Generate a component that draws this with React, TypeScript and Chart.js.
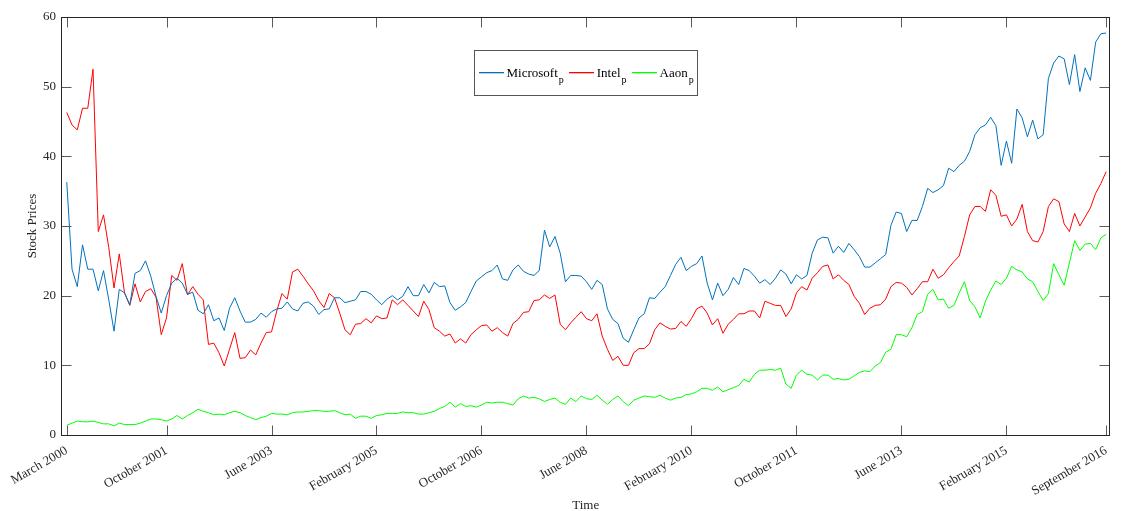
import React, { useEffect, useRef } from "react";
import { Chart, registerables } from "chart.js";
Chart.register(...registerables);

const tickPositions = [0, 19, 39, 59, 79, 99, 119, 139, 159, 179, 198];
const tickLabels = ["March 2000", "October 2001", "June 2003", "February 2005", "October 2006", "June 2008", "February 2010", "October 2011", "June 2013", "February 2015", "September 2016"];
const yTicks = [0, 10, 20, 30, 40, 50, 60];
const seriesNames = ["Microsoft", "Intel", "Aaon"];
const seriesSub = "p";
const seriesColors = ["#0072BD", "#FF0000", "#00FF00"];

const microsoft = [
  36.3, 23.8, 21.3, 27.3, 23.8, 23.8, 20.7, 23.6, 19.4, 14.9,
  20.9, 20.4, 18.7, 23.2, 23.6, 25.0, 22.8, 19.9, 17.5, 20.0,
  21.8, 22.5, 21.8, 20.2, 20.5, 17.9, 17.4, 18.7, 16.4, 16.8,
  15.0, 18.2, 19.7, 17.8, 16.2, 16.2, 16.6, 17.5, 16.9, 17.7,
  18.1, 18.2, 19.1, 18.1, 17.8, 18.9, 19.1, 18.5, 17.3, 18.0,
  18.1, 19.7, 19.7, 19.0, 19.2, 19.4, 20.6, 20.6, 20.2, 19.4,
  18.7, 19.5, 20.0, 19.4, 19.9, 21.3, 20.0, 20.0, 21.6, 20.4,
  21.9, 21.3, 21.4, 19.0, 17.9, 18.4, 19.0, 20.6, 22.1, 22.7,
  23.3, 23.6, 24.4, 22.4, 22.2, 23.7, 24.4, 23.5, 23.1, 22.9,
  23.6, 29.4, 27.0, 28.5, 26.1, 22.0, 22.9, 22.9, 22.8, 22.0,
  20.9, 22.2, 21.6, 18.1, 16.6, 16.0, 13.9, 13.3, 15.1, 16.8,
  17.4, 19.7, 19.6, 20.5, 21.3, 22.9, 24.5, 25.5, 23.6, 24.2,
  24.6, 25.7, 21.8, 19.4, 21.8, 20.0, 20.9, 22.6, 21.6, 23.9,
  23.6, 22.8, 21.8, 22.3, 21.6, 22.5, 23.7, 23.1, 21.7, 23.0,
  22.4, 22.9, 26.1, 28.0, 28.4, 28.3, 26.1, 27.1, 26.2, 27.5,
  26.6, 25.6, 24.1, 24.1, 24.7, 25.3, 25.9, 30.1, 32.0, 31.8,
  29.2, 30.8, 30.8, 32.8, 35.4, 34.8, 35.2, 35.8, 38.3, 37.8,
  38.7, 39.3, 40.7, 43.1, 44.1, 44.5, 45.6, 44.4, 38.7, 42.2,
  39.0, 46.8, 45.5, 42.8, 45.2, 42.5, 43.1, 51.2, 53.4, 54.4,
  54.0, 50.3, 54.6, 49.3, 52.7, 50.9, 56.4, 57.6, 57.7
];

const intel = [
  46.3, 44.5, 43.8, 46.9, 46.9, 52.5, 29.2, 31.6, 26.9, 21.1,
  26.0, 20.4, 18.6, 21.7, 19.1, 20.6, 21.0, 19.8, 14.4, 16.8,
  22.9, 22.2, 24.6, 20.1, 21.3, 20.2, 19.4, 13.0, 13.2, 11.8,
  9.9, 12.3, 14.7, 11.0, 11.1, 12.2, 11.5, 13.2, 14.7, 14.8,
  17.8, 20.3, 19.5, 23.4, 23.8, 22.8, 21.7, 20.7, 19.3, 18.3,
  20.3, 19.7, 17.5, 15.1, 14.4, 15.9, 16.0, 16.7, 16.1, 17.1,
  16.7, 16.8, 19.4, 18.7, 19.4, 18.6, 17.8, 17.0, 19.2, 18.0,
  15.4, 14.9, 14.2, 14.5, 13.2, 13.8, 13.2, 14.4, 15.1, 15.7,
  15.8, 14.9, 15.4, 14.7, 14.2, 16.0, 16.6, 17.6, 17.7, 19.3,
  19.4, 20.1, 19.6, 20.1, 15.9, 15.1, 16.1, 16.9, 17.7, 16.7,
  16.4, 17.4, 14.2, 12.3, 10.7, 11.3, 10.0, 10.0, 11.8, 12.4,
  12.4, 13.1, 15.1, 16.1, 15.6, 15.2, 15.3, 16.3, 15.6, 16.7,
  18.1, 18.5, 17.5, 15.8, 16.7, 14.6, 15.9, 16.6, 17.4, 17.4,
  17.8, 17.8, 16.8, 19.2, 18.9, 18.6, 18.6, 17.0, 18.1, 20.4,
  21.3, 20.8, 22.5, 23.3, 24.2, 24.4, 22.4, 23.0, 22.2, 21.6,
  19.9, 18.9, 17.3, 18.2, 18.6, 18.7, 19.5, 21.3, 21.9, 21.8,
  21.2, 20.1, 21.0, 22.0, 22.0, 23.8, 22.5, 23.0, 24.0, 24.9,
  25.7, 28.5, 31.6, 32.8, 32.8, 32.1, 35.2, 34.4, 31.4, 31.6,
  30.0, 31.0, 33.1, 29.2, 27.9, 27.7, 29.2, 32.8, 33.9, 33.5,
  30.3, 29.2, 31.8, 30.0, 31.3, 32.6, 34.7, 36.1, 37.8
];

const aaon = [
  1.4, 1.7, 2.0, 1.9, 1.9, 2.0, 1.8, 1.6, 1.6, 1.3,
  1.7, 1.5, 1.5, 1.5, 1.7, 2.0, 2.3, 2.3, 2.2, 2.0,
  2.3, 2.8, 2.3, 2.8, 3.2, 3.7, 3.4, 3.2, 2.9, 3.0,
  2.9, 3.2, 3.4, 3.2, 2.8, 2.5, 2.2, 2.5, 2.7, 3.1,
  3.0, 3.0, 2.9, 3.2, 3.3, 3.3, 3.4, 3.5, 3.5, 3.4,
  3.4, 3.5, 3.2, 2.9, 3.0, 2.4, 2.7, 2.7, 2.4, 2.8,
  2.9, 3.1, 3.1, 3.1, 3.3, 3.2, 3.2, 3.0, 3.0, 3.2,
  3.4, 3.8, 4.1, 4.7, 4.0, 4.5, 4.1, 4.2, 4.0, 4.3,
  4.7, 4.6, 4.7, 4.7, 4.5, 4.3, 5.2, 5.6, 5.3, 5.4,
  5.2, 4.8, 5.1, 5.3, 4.7, 4.4, 5.3, 4.8, 5.6, 5.2,
  5.1, 5.7, 5.0, 4.4, 5.1, 5.6, 4.8, 4.2, 5.0, 5.3,
  5.6, 5.5, 5.4, 5.7, 5.3, 5.0, 5.3, 5.4, 5.8, 5.9,
  6.2, 6.7, 6.7, 6.4, 6.9, 6.2, 6.5, 6.8, 7.1, 8.0,
  7.6, 8.7, 9.3, 9.3, 9.4, 9.3, 9.6, 7.3, 6.7, 8.6,
  9.3, 8.7, 8.6, 7.9, 8.6, 8.6, 8.0, 8.1, 7.9, 8.0,
  8.5, 9.0, 9.2, 9.1, 9.9, 10.4, 11.9, 12.3, 14.4, 14.4,
  14.1, 15.4, 17.3, 17.7, 20.2, 20.9, 19.4, 19.5, 18.2, 18.6,
  20.4, 22.0, 19.3, 18.4, 16.8, 19.2, 20.8, 22.1, 21.6, 22.5,
  24.2, 23.7, 23.4, 22.4, 22.0, 20.6, 19.3, 20.3, 24.6, 23.0,
  21.5, 24.7, 27.9, 26.5, 27.4, 27.5, 26.6, 28.3, 28.8
];

const FONT = '"Liberation Serif", "Times New Roman", serif';
const AXIS = "#262626";

const framePlugin = {
  id: "frame",
  beforeDatasetsDraw(chart: any) {
    const { ctx, chartArea: a, scales } = chart;
    const L = Math.round(a.left) + 0.5;
    const R = Math.round(a.right) - 0.5;
    const T = Math.round(a.top) + 0.5;
    const B = Math.round(a.bottom) + 0.5;
    const len = 10;
    ctx.save();
    ctx.lineWidth = 1;
    ctx.strokeStyle = "#5a5a5a";
    ctx.beginPath();
    tickPositions.forEach((v) => {
      const x = Math.round(scales.x.getPixelForValue(v)) + 0.5;
      ctx.moveTo(x, B);
      ctx.lineTo(x, B - len);
      ctx.moveTo(x, T);
      ctx.lineTo(x, T + len);
    });
    yTicks.forEach((v) => {
      const y = Math.round(scales.y.getPixelForValue(v)) + 0.5;
      ctx.moveTo(L, y);
      ctx.lineTo(L + len, y);
      ctx.moveTo(R, y);
      ctx.lineTo(R - len, y);
    });
    ctx.stroke();
    ctx.strokeStyle = AXIS;
    ctx.strokeRect(L, T, R - L, B - T);
    ctx.restore();
  },
  afterDraw(chart: any) {
    const { ctx, chartArea: a } = chart;
    ctx.save();
    const mainFont = "13px " + FONT;
    const subFont = "10px " + FONT;
    const lineLen = 25;
    const padL = 4;
    const gapLineText = 3;
    const gapItems = 5;
    const widths = seriesNames.map((n) => {
      ctx.font = mainFont;
      const w1 = ctx.measureText(n).width;
      ctx.font = subFont;
      const w2 = ctx.measureText(seriesSub).width;
      return { w1, w2 };
    });
    let total = padL;
    widths.forEach((w, i) => {
      total += lineLen + gapLineText + w.w1 + 1 + w.w2;
      total += i < widths.length - 1 ? gapItems : 4;
    });
    const boxW = Math.round(total);
    const boxH = 45;
    const cx = (a.left + a.right) / 2;
    const bx = Math.round(cx - boxW / 2) + 0.5;
    const by = Math.round(a.top + 33) + 0.5;
    ctx.fillStyle = "#ffffff";
    ctx.fillRect(bx, by, boxW, boxH);
    ctx.strokeStyle = "#555555";
    ctx.lineWidth = 1;
    ctx.strokeRect(bx, by, boxW, boxH);
    const cy = by + boxH / 2;
    let x = bx + padL;
    widths.forEach((w, i) => {
      ctx.fillStyle = seriesColors[i];
      ctx.fillRect(Math.round(x), Math.round(cy) - 1, lineLen, 1.3);
      x += lineLen + gapLineText;
      ctx.fillStyle = "#000000";
      ctx.textBaseline = "middle";
      ctx.textAlign = "left";
      ctx.font = mainFont;
      ctx.fillText(seriesNames[i], x, cy + 1);
      x += w.w1 + 1;
      ctx.font = subFont;
      ctx.fillText(seriesSub, x, cy + 7);
      x += w.w2 + gapItems;
    });
    ctx.restore();
  },
};

export default function App() {
  const ref = useRef<HTMLCanvasElement | null>(null);
  useEffect(() => {
    if (!ref.current) return;
    const mk = (arr: number[]) => arr.map((v, i) => ({ x: i, y: v }));
    const chart = new Chart(ref.current, {
      type: "line",
      data: {
        datasets: [microsoft, intel, aaon].map((arr, i) => ({
          label: seriesNames[i],
          data: mk(arr),
          borderColor: seriesColors[i],
          backgroundColor: seriesColors[i],
          borderWidth: 1,
          pointRadius: 0,
          tension: 0,
          fill: false,
        })),
      },
      options: {
        animation: false,
        responsive: true,
        maintainAspectRatio: false,
        layout: { padding: { top: 17, right: 11, left: 0, bottom: 0 } },
        plugins: { legend: { display: false }, tooltip: { enabled: false } },
        scales: {
          x: {
            type: "linear",
            min: -1.1,
            max: 198.8,
            afterBuildTicks: (s: any) => {
              s.ticks = tickPositions.map((v) => ({ value: v }));
            },
            afterFit: (s: any) => {
              s.height = 76;
            },
            grid: { display: false, drawTicks: false },
            border: { display: false },
            ticks: {
              autoSkip: false,
              maxRotation: 30,
              minRotation: 30,
              padding: 8,
              color: AXIS,
              font: { family: FONT, size: 13 },
              callback: (_v: any, i: number) => tickLabels[i],
            },
            title: {
              display: true,
              text: "Time",
              color: AXIS,
              font: { family: FONT, size: 13 },
              padding: { top: 0, bottom: -2 },
            },
          },
          y: {
            min: 0,
            max: 60,
            afterBuildTicks: (s: any) => {
              s.ticks = yTicks.map((v) => ({ value: v }));
            },
            afterFit: (s: any) => {
              s.width = 61;
            },
            grid: { display: false, drawTicks: false },
            border: { display: false },
            ticks: {
              padding: 5,
              color: AXIS,
              font: { family: FONT, size: 13 },
            },
            title: {
              display: true,
              text: "Stock Prices",
              color: AXIS,
              font: { family: FONT, size: 13 },
              padding: { top: 25, bottom: 0 },
            },
          },
        },
      },
      plugins: [framePlugin],
    });
    return () => chart.destroy();
  }, []);
  return (
    <div style={{ position: "fixed", left: 0, top: 0, width: 1122, height: 511, background: "#fff" }}>
      <canvas ref={ref} />
    </div>
  );
}
